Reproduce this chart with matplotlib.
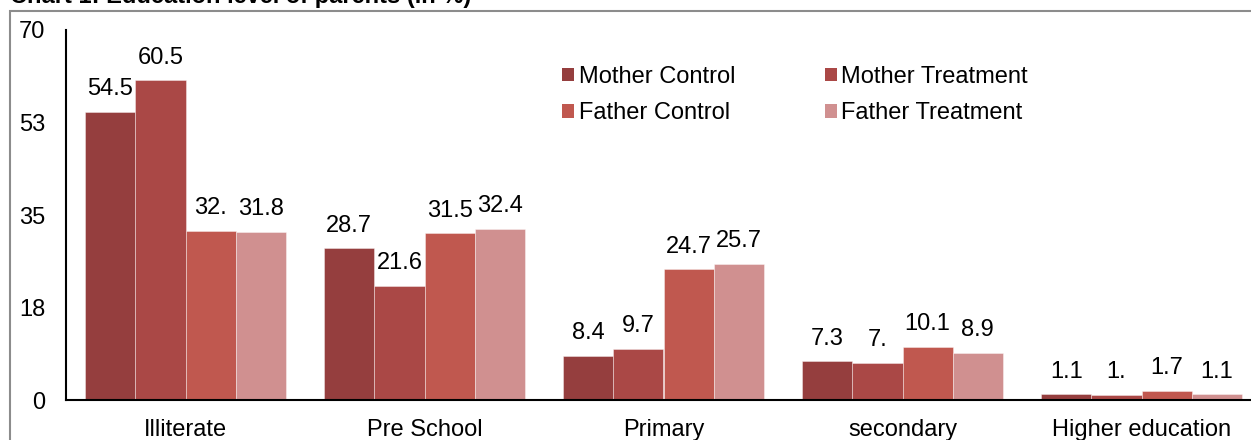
import numpy as np
import matplotlib.pyplot as plt
from matplotlib.patches import Rectangle, Patch

plt.rcParams['font.family'] = ['Liberation Sans', 'DejaVu Sans']

categories = ['Illiterate', 'Pre School', 'Primary', 'secondary', 'Higher education']
mother_control = [54.5, 28.7, 8.4, 7.3, 1.1]
mother_treatment = [60.5, 21.6, 9.7, 7.0, 1.0]
father_control = [32.0, 31.5, 24.7, 10.1, 1.7]
father_treatment = [31.8, 32.4, 25.7, 8.9, 1.1]

series = [
    ('Mother Control', mother_control, '#953e3e'),
    ('Mother Treatment', mother_treatment, '#aa4846'),
    ('Father Control', father_control, '#c0584f'),
    ('Father Treatment', father_treatment, '#d09090'),
]

yticks = [0, 17.5, 35, 52.5, 70]
ytick_labels = ['0', '18', '35', '53', '70']


def fmt(v):
    # labels drop trailing zeros: 32.0 -> "32."
    return f'{v:.1f}'.rstrip('0')


W, H = 1251, 440
fig = plt.figure(figsize=(W / 100, H / 100), dpi=100)
ax = fig.add_axes([66 / W, 40 / H, 1195 / W, 370 / H])

x = np.arange(len(categories))
bw = 0.21
handles = []
for i, (name, vals, col) in enumerate(series):
    pos = x + (i - 1.5) * bw
    ax.bar(pos, vals, width=bw, color=col, edgecolor=(1, 1, 1, 0.45), linewidth=0.6)
    for xp, v in zip(pos, vals):
        ax.annotate(fmt(v), (xp, v), xytext=(0, 12), textcoords='offset points',
                    ha='center', va='baseline', fontsize=17)
    handles.append(Patch(facecolor=col, label=name))

ax.set_xlim(-0.5, len(categories) - 0.5)
ax.set_ylim(0, 70)
ax.set_yticks(yticks)
ax.set_yticklabels(ytick_labels)
ax.set_xticks(x)
ax.set_xticklabels(categories)
ax.tick_params(axis='both', length=0, labelsize=17)
ax.tick_params(axis='y', pad=15)
ax.tick_params(axis='x', pad=13.5)
for s in ['top', 'right']:
    ax.spines[s].set_visible(False)
for s in ['left', 'bottom']:
    ax.spines[s].set_linewidth(1.5)
    ax.spines[s].set_color('black')

order = [0, 2, 1, 3]
ax.legend([handles[k] for k in order], [handles[k].get_label() for k in order],
          ncol=2, frameon=False, fontsize=17, loc='upper left',
          bbox_to_anchor=(562 / W, 1 - 66 / H), bbox_transform=fig.transFigure,
          borderpad=0, borderaxespad=0, handlelength=0.5, handleheight=0.5,
          handletextpad=0.2, columnspacing=3.8, labelspacing=0.6)

# outer frame
fig.add_artist(Rectangle((10 / W, -0.1), 1.2, 1.1 - 11 / H, transform=fig.transFigure,
                         fill=False, edgecolor='#8c8c8c', linewidth=1.5))

fig.text(10 / W, 1 - 3 / H, 'Chart 1: Education level of parents (in %)',
         fontsize=17, fontweight='bold', ha='left', va='baseline')

fig.savefig('out.png', dpi=100)
